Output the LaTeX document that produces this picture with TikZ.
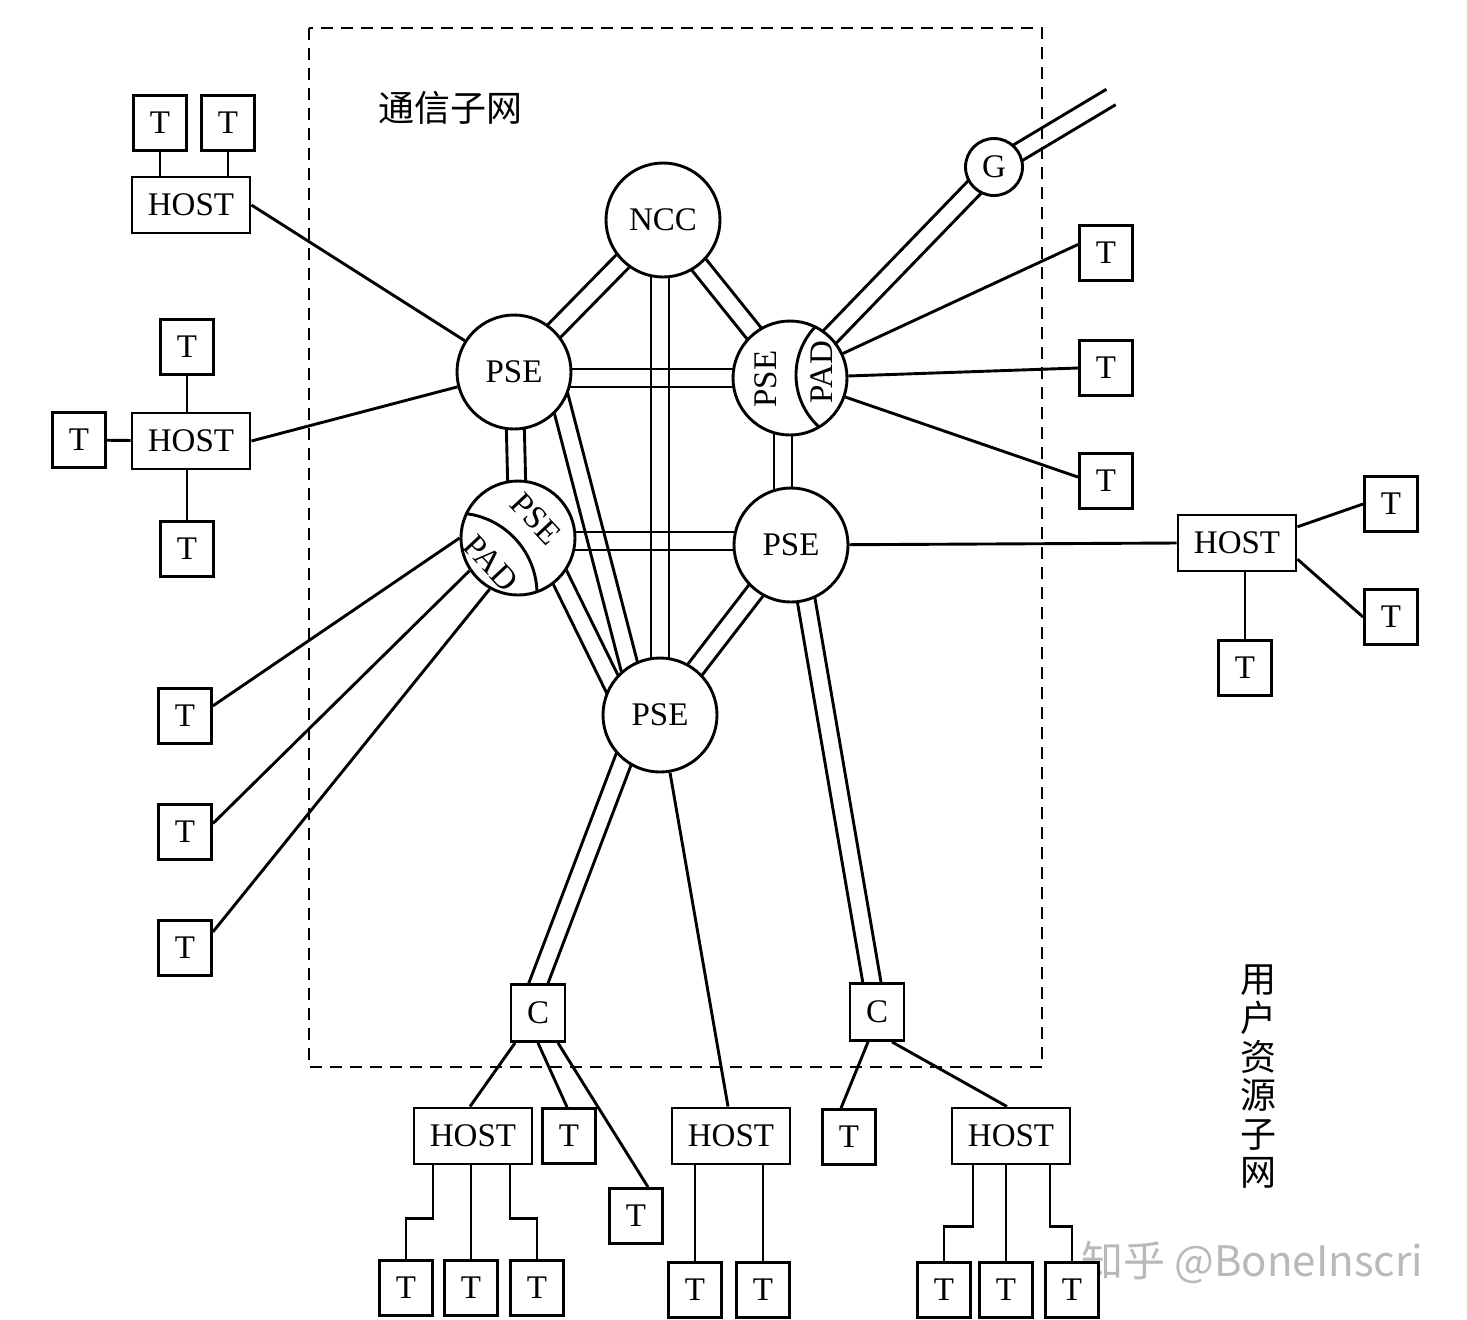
\documentclass[tikz,border=0pt]{standalone}
\usepackage{fontspec}
\setmainfont{Liberation Serif}
\newfontfamily\cjk{Noto Sans CJK SC}
\usetikzlibrary{calc}
\pgfdeclarelayer{bg}
\pgfsetlayers{bg,main}
\tikzset{
  wire/.style={line width=1.45pt},
  tbox/.style={draw, fill=white, line width=1.45pt, minimum width=26.5pt, minimum height=27.5pt, inner sep=0pt, font=\fontsize{16.5}{18}\selectfont},
  hbox/.style={tbox, minimum width=59pt, minimum height=28pt},
  cbox/.style={tbox, minimum width=27pt, minimum height=28.5pt},
  pse/.style={circle, draw, fill=white, line width=1.45pt, minimum size=57pt, inner sep=0pt, font=\fontsize{16.5}{18}\selectfont},
  gnode/.style={pse, minimum size=28.5pt},
  lbl/.style={inner sep=0pt, font=\fontsize{16.5}{18}\selectfont},
  frame/.style={line width=1.45pt, dash pattern=on 6pt off 4pt}
}
\newcommand\mypipe[2]{%
  \draw[wire] ($(#1)!4.5pt!90:(#2)$) -- ($(#2)!4.5pt!-90:(#1)$);
  \draw[wire] ($(#1)!4.5pt!-90:(#2)$) -- ($(#2)!4.5pt!90:(#1)$);}
\begin{document}
\begin{tikzpicture}[x=0.5pt,y=-0.5pt]
\useasboundingbox (0,0) rectangle (1467,1319);

% dashed frame of the communication subnet
\draw[frame] (309,28) rectangle (1042,1067);
\node[font=\cjk\fontsize{18}{20}\selectfont, inner sep=0pt] (lblComm) at (450,108) {通信子网};
\node[font=\cjk\fontsize{18}{19.3}\selectfont, inner sep=0pt, align=center] (lblUser) at (1258,1077) {用\\户\\资\\源\\子\\网};
\node[font=\cjk\fontsize{21}{23}\selectfont, text=gray!55, inner sep=0pt] (wm) at (1252,1262) {知乎 @BoneInscri};

% switching nodes
\node[pse] (ncc) at (663,220) {NCC};
\node[pse] (pseA) at (514,372) {PSE};
\node[pse] (pseTR) at (790,378) {};
\node[pse] (pseML) at (518,538) {};
\node[pse] (pseMR) at (791,545) {PSE};
\node[pse] (pseB) at (660,715) {PSE};
\node[gnode] (g) at (994,167) {G};

% split circles PSE / PAD
\begin{scope}
  \clip (pseTR.center) circle [radius=28.5pt];
  \draw[wire] (866,375) circle [radius=35pt];
\end{scope}
\node[lbl, rotate=90] (trPSE) at (766,379) {PSE};
\node[lbl, rotate=90] (trPAD) at (822,372) {PAD};
\begin{scope}
  \clip (pseML.center) circle [radius=28.5pt];
  \draw[wire] (456,594) circle [radius=40.5pt];
\end{scope}
\node[lbl, rotate=-47] (mlPSE) at (536,519) {PSE};
\node[lbl, rotate=-47] (mlPAD) at (491,563) {PAD};

% left hosts and terminals
\node[tbox] (tA1) at (160,123) {T};
\node[tbox] (tA2) at (228,123) {T};
\node[hbox] (hostTL) at (191,205) {HOST};
\node[tbox] (tB1) at (187,347) {T};
\node[hbox] (hostML) at (191,441) {HOST};
\node[tbox] (tB2) at (79,440) {T};
\node[tbox] (tB3) at (187,549) {T};
\node[tbox] (tL1) at (185,716) {T};
\node[tbox] (tL2) at (185,832) {T};
\node[tbox] (tL3) at (185,948) {T};

% right terminals and host
\node[tbox] (tR1) at (1106,253) {T};
\node[tbox] (tR2) at (1106,368) {T};
\node[tbox] (tR3) at (1106,481) {T};
\node[hbox] (hostR) at (1237,543) {HOST};
\node[tbox] (tU1) at (1391,504) {T};
\node[tbox] (tU2) at (1391,617) {T};
\node[tbox] (tU3) at (1245,668) {T};

% bottom
\node[cbox] (cL) at (538,1013) {C};
\node[cbox] (cR) at (877,1012) {C};
\node[hbox] (hostBL) at (473,1136) {HOST};
\node[tbox] (tC1) at (569,1136) {T};
\node[tbox] (tC2) at (636,1216) {T};
\node[tbox] (tD1) at (406,1288) {T};
\node[tbox] (tD2) at (471,1288) {T};
\node[tbox] (tD3) at (537,1288) {T};
\node[hbox] (hostBM) at (731,1136) {HOST};
\node[tbox] (tE1) at (695,1290) {T};
\node[tbox] (tE2) at (763,1290) {T};
\node[tbox] (tF) at (849,1137) {T};
\node[hbox] (hostBR) at (1011,1136) {HOST};
\node[tbox] (tG1) at (944,1290) {T};
\node[tbox] (tG2) at (1006,1290) {T};
\node[tbox] (tG3) at (1072,1290) {T};

% trunk lines (double lines) behind the nodes
\begin{pgfonlayer}{bg}
  \mypipe{ncc}{pseA}
  \mypipe{ncc}{pseTR}
  \coordinate (nccB) at (ncc -| pseB);
  \mypipe{nccB}{pseB}
  \coordinate (aR) at (pseA |- pseTR);
  \mypipe{aR}{pseTR}
  \mypipe{pseA}{pseML}
  \coordinate (aB1) at ($(pseA)+(40,4)$);
  \coordinate (aB2) at ($(pseB)+(-22,-15)$);
  \mypipe{aB1}{aB2}
  \coordinate (mm1) at ($(pseML)+(0,3)$);
  \coordinate (mm2) at ($(pseMR)+(0,-4)$);
  \mypipe{mm1}{mm2}
  \coordinate (tm1) at ($(pseTR)+(-7,0)$);
  \coordinate (tm2) at ($(pseMR)+(-8,0)$);
  \mypipe{tm1}{tm2}
  \coordinate (mb1) at ($(pseML)+(27,9)$);
  \coordinate (mb2) at ($(pseB)+(-33,-1)$);
  \mypipe{mb1}{mb2}
  \mypipe{pseMR}{pseB}
  \coordinate (mc1) at ($(pseMR)+(10,25)$);
  \mypipe{mc1}{cR}
  \coordinate (bc1) at ($(pseB)+(-29,25)$);
  \coordinate (bc2) at ($(cL)+(-6,-13)$);
  \mypipe{bc1}{bc2}
  \mypipe{pseTR}{g}
  \coordinate (gEnd) at (1111,97);
  \mypipe{g}{gEnd}
\end{pgfonlayer}

% single lines
\draw[wire] (tA1) -- (tA1 |- hostTL.north);
\draw[wire] (tA2) -- (tA2 |- hostTL.north);
\draw[wire] (tB1) -- (tB1 |- hostML.north);
\draw[wire] (tB3) -- (tB3 |- hostML.south);
\draw[wire] (tB2) -- (hostML);
\draw[wire] (hostTL.east) -- (pseA);
\draw[wire] (hostML.east) -- (pseA);
\draw[wire] (pseML.180) -- (tL1.20);
\draw[wire] (pseML.214) -- (tL2.17);
\draw[wire] (pseML.241) -- (tL3.30);
\draw[wire] (pseTR) -- (tR1.163);
\draw[wire] (pseTR) -- (tR2.west);
\draw[wire] (pseTR) -- (tR3.172);
\draw[wire] (pseMR) -- (hostR.west);
\draw[wire] (hostR.15) -- (tU1.west);
\draw[wire] (hostR.-15) -- (tU2.west);
\draw[wire] (tU3) -- (tU3 |- hostR.south);
\draw[wire] (pseB) -- ($(hostBM.north)+(-3,0)$);
\draw[wire] ($(cL.south)+(-23,0)$) -- ($(hostBL.north)+(-3,0)$);
\draw[wire] (cL.south) -- ($(tC1.north)+(-2,0)$);
\draw[wire] ($(cL.south)+(20,0)$) -- ($(tC2.north)+(12,0)$);
\draw[wire] ($(hostBL.south)+(-40,0)$) |- ($(tD1.north)+(0,-41)$) -- (tD1.north);
\draw[wire] (tD2) -- (tD2 |- hostBL.south);
\draw[wire] ($(hostBL.south)+(37,0)$) |- ($(tD3.north)+(0,-41)$) -- (tD3.north);
\draw[wire] (tE1) -- (tE1 |- hostBM.south);
\draw[wire] (tE2) -- (tE2 |- hostBM.south);
\draw[wire] ($(cR.south)+(-9,0)$) -- ($(tF.north)+(-8,0)$);
\draw[wire] ($(cR.south)+(15,0)$) -- ($(hostBR.north)+(-4,0)$);
\draw[wire] ($(hostBR.south)+(-38,0)$) |- ($(tG1.north)+(0,-35)$) -- (tG1.north);
\draw[wire] (tG2) -- (tG2 |- hostBR.south);
\draw[wire] ($(hostBR.south)+(39,0)$) |- ($(tG3.north)+(0,-35)$) -- (tG3.north);
\end{tikzpicture}
\end{document}
